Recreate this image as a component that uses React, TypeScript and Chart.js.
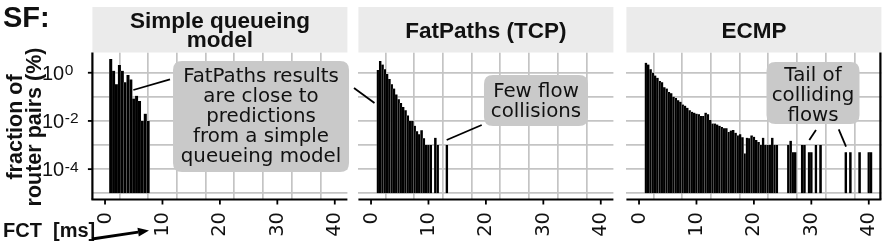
import React, { useEffect, useRef } from 'react';
import { Chart, registerables } from 'chart.js';

Chart.register(...registerables);

// ---------------- data ----------------
const PANEL_TITLES: string[][] = [['Simple queueing', 'model'], ['FatPaths (TCP)'], ['ECMP']];
const X_TICKS = [0, 10, 20, 30, 40];
const X_GRID = [0, 5, 10, 15, 20, 25, 30, 35, 40];
const Y_GRID = [1e-5, 1e-4, 1e-3, 1e-2, 1e-1, 1];
const Y_TICK_EXPONENTS = [0, -2, -4];
const Y_TITLE = ['fraction of', 'router pairs (%)'];
const X_TITLE = 'FCT  [ms]';
const FIG_LABEL = 'SF:';

// Simple queueing model (bin centers in ms, % of router pairs)
const queueX = [1.0, 1.5, 2.0, 2.5, 3.0, 3.5, 4.0, 4.5, 5.0, 5.5, 6.0, 6.5, 7.0, 7.5];
const queueY = [3.7, 1.2, 0.33, 2.1, 1.2, 0.4, 0.8, 0.53, 0.085, 0.11, 0.068, 0.01, 0.02, 0.01];

// FatPaths (TCP)
const fatX = [1.2, 1.6, 2.0, 2.4, 2.8, 3.2, 3.6, 4.0, 4.4, 4.8, 5.2, 5.6, 6.0, 6.4, 6.8, 7.2, 7.6, 8.0, 8.4, 8.8,
  9.2, 9.6, 10.0, 10.4, 11.2, 11.6, 13.2];
const fatY = [1.3, 3.1, 2.2, 1.4, 0.88, 0.55, 0.33, 0.22, 0.126, 0.08, 0.056, 0.038, 0.028, 0.017, 0.01, 0.01,
  0.0063, 0.0037, 0.0028, 0.0041, 0.0019, 0.001, 0.001, 0.001, 0.002, 0.001, 0.001];

// ECMP
const ecmpX = [1.2, 1.6, 2.0, 2.4, 2.8, 3.2, 3.6, 4.0, 4.4, 4.8, 5.2, 5.6, 6.0, 6.4, 6.8, 7.2, 7.6, 8.0, 8.4, 8.8,
  9.2, 9.6, 10.0, 10.4, 10.8, 11.2, 11.6, 12.0, 12.4, 12.8, 13.2, 13.6, 14.0, 14.4, 14.8, 15.2, 15.6, 16.0, 16.4,
  16.8, 17.2, 17.6, 18.0, 18.4, 18.8, 19.2, 19.6, 20.0, 20.4, 20.8, 21.2, 21.6, 22.0, 22.4, 22.8, 23.2, 23.6, 24.0,
  26.0, 26.4, 26.8, 27.2, 28.4, 28.8, 29.6, 30.0, 30.8, 31.6, 36.0, 36.8, 38.4, 40.0, 40.4];
const ecmpY = [2.6, 2.2, 1.4, 1.0, 0.76, 0.62, 0.45, 0.40, 0.25, 0.22, 0.16, 0.14, 0.10, 0.09, 0.072, 0.062, 0.048,
  0.043, 0.035, 0.028, 0.024, 0.022, 0.020, 0.019, 0.016, 0.016, 0.022, 0.019, 0.011, 0.0078, 0.0078, 0.0071,
  0.0063, 0.0056, 0.005, 0.005, 0.0035, 0.004, 0.0042, 0.0032, 0.0025, 0.0028, 0.0021, 0.00045, 0.002, 0.0019,
  0.0025, 0.0022, 0.0016, 0.00135, 0.001, 0.002, 0.001, 0.001, 0.001, 0.002, 0.001, 0.001,
  0.001, 0.0015, 0.0005, 0.0005, 0.001, 0.001, 0.0005, 0.0005, 0.001, 0.001, 0.0005, 0.0005, 0.0005, 0.0005, 0.0005];

// annotation texts
const CALLOUT_TEXT_1 = ['FatPaths results', 'are close to', 'predictions', 'from a simple', 'queueing model'];
const CALLOUT_TEXT_2 = ['Few flow', 'collisions'];
const CALLOUT_TEXT_3 = ['Tail of', 'colliding', 'flows'];

// ---------------- layout / style ----------------
const X_MIN = -2.2;
const X_MAX = 42.2;
const Y_MIN = Math.pow(10, -5.26);
const Y_MAX = Math.pow(10, 0.84);
const BAR_BASE = 1e-5;
const H = 245;
const PAD_TOP = 52.5;
const PAD_BOTTOM = 45.5;
const GRID_COLOR = '#c4c4c4';
const SANS = '"Liberation Sans", Arial, sans-serif';
const DEJAVU = '"DejaVu Sans", sans-serif';
const TEXT = '#111111';
const BOX = '#c9c9c9';

type Callout = { cx: number; cy: number; w: number; h: number; ty: number; lines: string[] };
type Seg = [number, number, number, number];
type Spec = {
  left: number; width: number; padL: number; padR: number;
  title: string[]; xs: number[]; ys: number[];
  first: boolean; last: boolean;
  callouts: Callout[]; segs: Seg[];
};

const SPECS: Spec[] = [
  {
    left: 0, width: 352, padL: 92.4, padR: 4.6, title: PANEL_TITLES[0], xs: queueX, ys: queueY,
    first: true, last: false,
    callouts: [{ cx: 27.16, cy: -1.816, w: 176, h: 111, ty: 5.5, lines: CALLOUT_TEXT_1 }],
    segs: [[4.92, -0.716, 11.31, -0.272]],
  },
  {
    left: 352, width: 268, padL: 6.4, padR: 6.6, title: PANEL_TITLES[1], xs: fatX, ys: fatY,
    first: false, last: false,
    callouts: [{ cx: 28.72, cy: -1.152, w: 104, h: 51, ty: 6.2, lines: CALLOUT_TEXT_2 }],
    segs: [[-2.97, -0.633, 0.6, -1.255], [13.17, -2.79, 19.27, -2.168]],
  },
  {
    left: 620, width: 272, padL: 6.4, padR: 10.6, title: PANEL_TITLES[2], xs: ecmpX, ys: ecmpY,
    first: false, last: true,
    callouts: [{ cx: 30.29, cy: -0.84, w: 93, h: 62, ty: 8, lines: CALLOUT_TEXT_3 }],
    segs: [[29.65, -2.79, 30.81, -2.376], [34.77, -2.347, 36.04, -3.069]],
  },
];

function roundRect(ctx: CanvasRenderingContext2D, x: number, y: number, w: number, h: number, r: number) {
  ctx.beginPath();
  ctx.moveTo(x + r, y);
  ctx.lineTo(x + w - r, y);
  ctx.quadraticCurveTo(x + w, y, x + w, y + r);
  ctx.lineTo(x + w, y + h - r);
  ctx.quadraticCurveTo(x + w, y + h, x + w - r, y + h);
  ctx.lineTo(x + r, y + h);
  ctx.quadraticCurveTo(x, y + h, x, y + h - r);
  ctx.lineTo(x, y + r);
  ctx.quadraticCurveTo(x, y, x + r, y);
  ctx.closePath();
}

function decorPlugin(spec: Spec) {
  return {
    id: 'decor' + spec.left,
    afterDraw(chart: any) {
      const ctx: CanvasRenderingContext2D = chart.ctx;
      const a = chart.chartArea;
      const xs = chart.scales.x;
      const ys = chart.scales.y;
      const px = (v: number) => xs.getPixelForValue(v);
      const py = (lg: number) => ys.getPixelForValue(Math.pow(10, lg));
      ctx.save();

      // strip
      ctx.fillStyle = '#ebebeb';
      ctx.fillRect(a.left, 7, a.right - a.left, a.top - 7);
      ctx.fillStyle = TEXT;
      ctx.font = `bold 22.5px ${SANS}`;
      ctx.textAlign = 'center';
      ctx.textBaseline = 'alphabetic';
      const cxm = (a.left + a.right) / 2;
      if (spec.title.length === 2) {
        ctx.fillText(spec.title[0], cxm, 27.5);
        ctx.fillText(spec.title[1], cxm, 47);
      } else {
        ctx.fillText(spec.title[0], cxm, 38);
      }

      // axes
      ctx.strokeStyle = '#000';
      ctx.lineWidth = 2.2;
      ctx.beginPath();
      ctx.moveTo(a.left - (spec.first ? 1 : 0), a.bottom);
      ctx.lineTo(a.right, a.bottom);
      ctx.stroke();
      if (spec.first) {
        ctx.beginPath();
        ctx.moveTo(a.left, a.top);
        ctx.lineTo(a.left, a.bottom);
        ctx.stroke();
      }
      if (spec.last) {
        ctx.beginPath();
        ctx.moveTo(a.right - 1, a.top);
        ctx.lineTo(a.right - 1, a.bottom);
        ctx.stroke();
      }

      // x ticks + labels
      ctx.lineWidth = 1.8;
      ctx.font = `19.5px ${DEJAVU}`;
      ctx.textAlign = 'right';
      ctx.textBaseline = 'middle';
      for (const v of X_TICKS) {
        const x = px(v);
        ctx.beginPath();
        ctx.moveTo(x, a.bottom);
        ctx.lineTo(x, a.bottom + 5);
        ctx.stroke();
        ctx.save();
        ctx.translate(x + 0.5, 212);
        ctx.rotate(-Math.PI / 2);
        ctx.fillText(String(v), 0, 0);
        ctx.restore();
      }

      if (spec.first) {
        // y ticks
        for (const e of Y_TICK_EXPONENTS) {
          const y = ys.getPixelForValue(Math.pow(10, e));
          ctx.beginPath();
          ctx.moveTo(a.left - 4.5, y);
          ctx.lineTo(a.left, y);
          ctx.stroke();
          ctx.textAlign = 'left';
          ctx.textBaseline = 'alphabetic';
          ctx.font = `20px ${SANS}`;
          ctx.fillText('10', 42, y + 7);
          const w = ctx.measureText('10').width;
          ctx.font = `15.5px ${SANS}`;
          ctx.fillText(String(e), 42 + w + 0.5, y + 2.5);
        }
        // y title
        ctx.font = `bold 21.5px ${SANS}`;
        ctx.textAlign = 'center';
        ctx.textBaseline = 'alphabetic';
        const mid = (a.top + a.bottom) / 2 + 1;
        [21.7, 40.7].forEach((bx, i) => {
          ctx.save();
          ctx.translate(bx, mid);
          ctx.rotate(-Math.PI / 2);
          ctx.fillText(Y_TITLE[i], 0, 0);
          ctx.restore();
        });
        // figure label
        ctx.textAlign = 'left';
        ctx.font = `bold 29px ${SANS}`;
        ctx.fillText(FIG_LABEL, 3, 26.5);
        // x title + arrow
        ctx.font = `bold 20px ${SANS}`;
        ctx.fillText(X_TITLE, 3, 236.5);
        const x1 = 92, y1 = 239, x2 = 149, y2 = 230.5;
        const ang = Math.atan2(y2 - y1, x2 - x1);
        const hl = 11, hw = 4.5;
        const bxp = x2 - hl * Math.cos(ang), byp = y2 - hl * Math.sin(ang);
        ctx.lineWidth = 2.8;
        ctx.beginPath();
        ctx.moveTo(x1, y1);
        ctx.lineTo(bxp, byp);
        ctx.stroke();
        ctx.fillStyle = '#000';
        ctx.beginPath();
        ctx.moveTo(x2, y2);
        ctx.lineTo(bxp + hw * Math.sin(ang), byp - hw * Math.cos(ang));
        ctx.lineTo(bxp - hw * Math.sin(ang), byp + hw * Math.cos(ang));
        ctx.closePath();
        ctx.fill();
      }

      // leader lines
      ctx.strokeStyle = '#000';
      ctx.lineWidth = 1.8;
      for (const s of spec.segs) {
        ctx.beginPath();
        ctx.moveTo(px(s[0]), py(s[1]));
        ctx.lineTo(px(s[2]), py(s[3]));
        ctx.stroke();
      }

      // callouts
      for (const c of spec.callouts) {
        const cx = px(c.cx);
        const cy = py(c.cy);
        ctx.fillStyle = BOX;
        roundRect(ctx, cx - c.w / 2, cy - c.h / 2, c.w, c.h, 9);
        ctx.fill();
        ctx.fillStyle = TEXT;
        ctx.font = `19.8px ${DEJAVU}`;
        ctx.textAlign = 'center';
        ctx.textBaseline = 'alphabetic';
        const n = c.lines.length;
        c.lines.forEach((t, i) => {
          ctx.fillText(t, cx, cy + (i - (n - 1) / 2) * 20 + c.ty);
        });
      }
      ctx.restore();
    },
  };
}

function makeChart(canvas: HTMLCanvasElement, spec: Spec) {
  return new Chart(canvas, {
    type: 'bar',
    data: {
      datasets: [
        {
          data: spec.xs.map((x, i) => ({ x, y: [BAR_BASE, spec.ys[i]] })) as any,
          backgroundColor: '#000000',
          borderColor: '#b8b8b8',
          borderWidth: { left: 0.25, right: 0.25, top: 0, bottom: 0 },
          borderSkipped: false,
          categoryPercentage: 1,
          barPercentage: 1,
        } as any,
      ],
    },
    options: {
      responsive: false,
      animation: false,
      devicePixelRatio: 1,
      layout: { padding: { left: spec.padL, right: spec.padR, top: PAD_TOP, bottom: PAD_BOTTOM } },
      plugins: { legend: { display: false }, tooltip: { enabled: false } },
      scales: {
        x: {
          type: 'linear',
          min: X_MIN,
          max: X_MAX,
          offset: false,
          grid: { color: GRID_COLOR, lineWidth: 1.7, drawTicks: false },
          border: { display: false },
          ticks: { display: false },
          afterBuildTicks: (s: any) => {
            s.ticks = X_GRID.map((v) => ({ value: v }));
          },
        },
        y: {
          type: 'logarithmic',
          min: Y_MIN,
          max: Y_MAX,
          grid: { color: GRID_COLOR, lineWidth: 1.7, drawTicks: false },
          border: { display: false },
          ticks: { display: false },
          afterBuildTicks: (s: any) => {
            s.ticks = Y_GRID.map((v) => ({ value: v }));
          },
        },
      },
    } as any,
    plugins: [decorPlugin(spec) as any],
  });
}

export default function App() {
  const refs = useRef<(HTMLCanvasElement | null)[]>([]);
  useEffect(() => {
    const charts = SPECS.map((s, i) => makeChart(refs.current[i] as HTMLCanvasElement, s));
    return () => charts.forEach((c) => c.destroy());
  }, []);
  return (
    <div style={{ position: 'fixed', left: 0, top: 0, width: 892, height: H, background: '#ffffff' }}>
      {SPECS.map((s, i) => (
        <canvas
          key={i}
          ref={(el) => {
            refs.current[i] = el;
          }}
          width={s.width}
          height={H}
          style={{ position: 'absolute', left: s.left, top: 0, width: s.width, height: H }}
        />
      ))}
    </div>
  );
}
